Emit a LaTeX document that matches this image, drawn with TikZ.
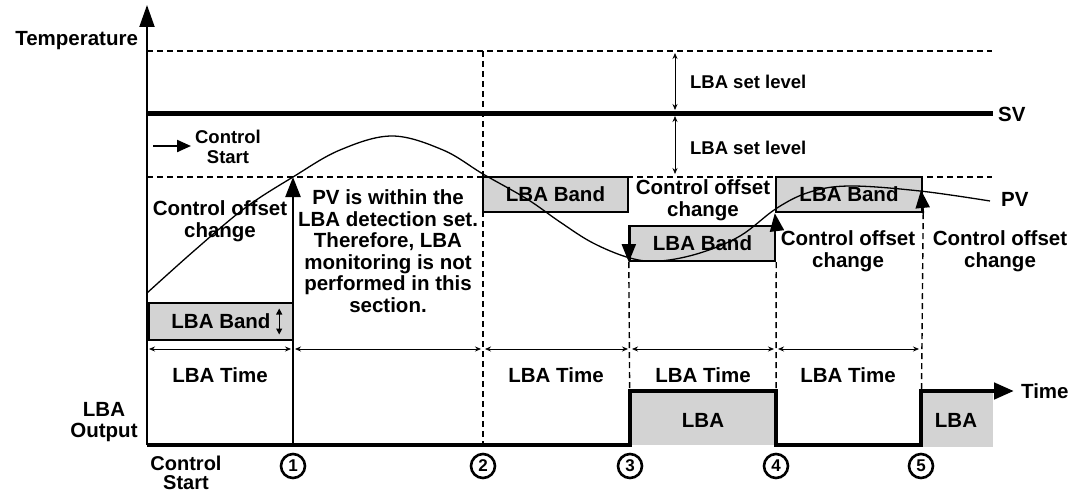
\documentclass[tikz,border=0pt]{standalone}
\usepackage{fontspec}
\setmainfont{Liberation Sans}
\usetikzlibrary{arrows.meta}
\definecolor{bandgray}{RGB}{211,211,211}

\begin{document}
\begin{tikzpicture}[
    x=1pt, y=-1pt,
    font=\fontsize{20.5}{21.5}\selectfont\bfseries,
    small/.style={font=\fontsize{18.5}{20}\selectfont\bfseries},
    band/.style={draw, fill=bandgray, line width=2.4pt, minimum width=#1, minimum height=35, inner sep=0pt},
    band/.default=145,
    guide/.style={dashed, dash pattern=on 6pt off 4pt, line width=1.4pt},
    flag/.style={line width=2pt, -{Triangle[length=18pt, width=14pt]}},
    span/.style={line width=0.8pt, {Stealth[length=6pt, width=5pt]}-{Stealth[length=6pt, width=5pt]}},
    secmark/.style={circle, draw, line width=2.6pt, minimum size=24, inner sep=0pt, font=\fontsize{17}{17}\selectfont\bfseries},
    line width=1.5pt
]
    \useasboundingbox (0,0) rectangle (1083,495);

    % ==========================================
    % AXES, SV AND LEVEL LINES
    % ==========================================
    \coordinate (origin)   at (147, 445);
    \coordinate (y_top)    at (147, 5);
    \coordinate (hi_left)  at (147, 51);
    \coordinate (hi_right) at (992, 51);
    \coordinate (sv_left)  at (147, 113);
    \coordinate (sv_right) at (993, 113);
    \coordinate (lo_left)  at (147, 177);
    \coordinate (lo_right) at (992, 177);

    \draw[line width=2pt, -{Triangle[length=22pt, width=15pt]}] (origin) -- (y_top);
    \draw[guide] (hi_left) -- (hi_right);
    \draw[guide] (lo_left) -- (lo_right);
    \draw[line width=5pt] (sv_left) -- (sv_right);

    \node[anchor=east] (temp) at (142, 41) {Temperature};
    \node[anchor=west] (sv)   at (994, 114) {SV};

    % LBA set level (above and below SV)
    \coordinate (lv_a) at (675, 53);
    \coordinate (lv_b) at (675, 110);
    \coordinate (lv_c) at (675, 116);
    \coordinate (lv_d) at (675, 174);
    \draw[span] (lv_a) -- (lv_b);
    \draw[span] (lv_c) -- (lv_d);
    \node[small, anchor=west] (lvl_up) at (686, 82)  {LBA set level};
    \node[small, anchor=west] (lvl_dn) at (686, 148) {LBA set level};

    % ==========================================
    % LBA BANDS
    % ==========================================
    \node[band=144, minimum height=37] (band1) at (221, 321.5) {LBA Band\hspace{16pt}};
    \node[band] (band2) at (555.5, 194.5) {LBA Band};
    \node[band] (band3) at (702.5, 243.5) {LBA Band};
    \node[band=146] (band4) at (849, 194.5) {LBA Band};

    \coordinate (b1_up) at ([xshift=-15pt, yshift=13pt]band1.east);
    \coordinate (b1_dn) at ([xshift=-15pt, yshift=-13pt]band1.east);
    \draw[line width=1.2pt, {Triangle[length=6pt, width=6pt]}-{Triangle[length=6pt, width=6pt]}] (b1_dn) -- (b1_up);

    % ==========================================
    % PV CURVE
    % ==========================================
    \draw[line width=1.3pt] plot[smooth, tension=0.6] coordinates {
        (147,293) (195,250) (245,208) (293,177) (340,150) (392,136) (443,150)
        (483,174) (527,199) (560,222) (593,243) (630,258) (660,261) (700,253)
        (740,236) (777,208) (810,192) (850,186) (920,191) (990,201)};
    \node[anchor=west] (pv) at (997, 199) {PV};

    % ==========================================
    % SECTION MARKERS
    % ==========================================
    \coordinate (t1_top) at (293, 177);
    \coordinate (t1_bot) at (293, 445);
    \coordinate (t2_top) at (483, 51);
    \coordinate (t2_bot) at (483, 445);
    \coordinate (t3_bot) at (630, 445);
    \coordinate (t4_bot) at (776, 445);
    \coordinate (t5_bot) at (921, 445);
    \coordinate (t5_tip) at (921, 190);

    \draw[line width=2.4pt, -{Triangle[length=20pt, width=15pt]}] (t1_bot) -- (t1_top);
    \draw[guide] (t2_top) -- (t2_bot);
    \draw[guide] (band3.south west) -- (t3_bot);
    \draw[guide] (band3.south east) -- (t4_bot);
    \draw[guide] (band4.south east) -- (t5_bot);

    \draw[flag] (band3.north west) -- (band3.south west);
    \draw[flag] (band3.north east) -- (band4.south west);
    \draw[flag] (band4.south east) -- (t5_tip);

    % LBA Time spans
    \foreach \a/\b in {149/291, 295/481, 485/628, 632/774, 778/919}
        \draw[span] (\a, 349) -- (\b, 349);

    \node (time1) at (220, 375) {LBA Time};
    \node (time2) at (556, 375) {LBA Time};
    \node (time3) at (703, 375) {LBA Time};
    \node (time4) at (848, 375) {LBA Time};

    % ==========================================
    % TEXTS
    % ==========================================
    \coordinate (cs_tail) at (153, 146);
    \coordinate (cs_head) at (191, 146);
    \draw[line width=2.2pt, -{Triangle[length=14pt, width=12pt]}] (cs_tail) -- (cs_head);
    \node[small, align=center] (cs_top) at (228, 147) {Control\\Start};

    \node[align=center] (offset0) at (220, 221) {Control offset\\change};
    \node[align=center] (note)    at (388, 251) {PV is within the\\LBA detection set.\\Therefore, LBA\\monitoring is not\\performed in this\\section.};
    \node[align=center] (offset3) at (703, 200) {Control offset\\change};
    \node[align=center] (offset4) at (848, 251) {Control offset\\change};
    \node[align=center] (offset5) at (1000, 251) {Control offset\\change};

    % ==========================================
    % LBA OUTPUT
    % ==========================================
    \fill[bandgray] (630, 391) rectangle (776, 445);
    \fill[bandgray] (921, 391) rectangle (993, 447);

    \coordinate (o_1) at (630, 445);
    \coordinate (o_2) at (630, 391);
    \coordinate (o_3) at (776, 391);
    \coordinate (o_4) at (776, 445);
    \coordinate (o_5) at (921, 445);
    \coordinate (o_6) at (921, 391);
    \coordinate (o_end) at (1014, 391);
    \draw[line width=4.5pt, line join=miter, -{Triangle[length=20pt, width=16pt]}]
        (origin) -- (o_1) -- (o_2) -- (o_3) -- (o_4) -- (o_5) -- (o_6) -- (o_end);

    \node (lba_a) at (703, 420) {LBA};
    \node (lba_b) at (956, 420) {LBA};
    \node[anchor=west] (time) at (1017, 391) {Time};
    \node[align=center] (output) at (104, 422) {LBA\\Output};
    \node[align=center, font=\fontsize{20}{19}\selectfont\bfseries] (cs_bot) at (186, 473) {Control\\Start};

    % Circled section numbers
    \node[secmark] (m1) at (293, 466) {1};
    \node[secmark] (m2) at (483, 466) {2};
    \node[secmark] (m3) at (630, 466) {3};
    \node[secmark] (m4) at (776, 466) {4};
    \node[secmark] (m5) at (921, 466) {5};

\end{tikzpicture}
\end{document}
